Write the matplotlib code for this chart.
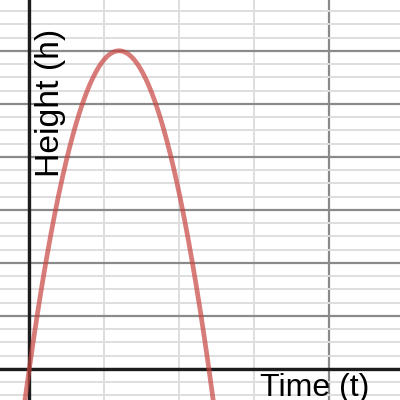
import numpy as np
import matplotlib.pyplot as plt
from matplotlib.ticker import MultipleLocator

plt.rcParams['font.family'] = ['Liberation Sans', 'DejaVu Sans']

# projectile path: vertex (time, height) and launch time
t_vertex = 1.2
h_vertex = 24.0
t_launch = 0.0

x_label = 'Time (t)'
y_label = 'Height (h)'

# visible window
t_min, t_max = -0.391, 4.953
h_min, h_max = -2.34, 27.83

a = h_vertex / (t_vertex - t_launch) ** 2
t = np.linspace(t_min, t_max, 600)
h = h_vertex - a * (t - t_vertex) ** 2

fig = plt.figure(figsize=(4, 4), dpi=100)
ax = fig.add_axes([0, 0, 1, 1])
ax.set_xlim(t_min, t_max)
ax.set_ylim(h_min, h_max)

# grid: minor every 1, major every 4
for axis in (ax.xaxis, ax.yaxis):
    axis.set_major_locator(MultipleLocator(4))
    axis.set_minor_locator(MultipleLocator(1))
ax.grid(which='minor', color='#dedede', lw=1.4, zorder=0)
ax.grid(which='major', color='#8a8a8a', lw=1.6, zorder=0)
ax.set_axisbelow(True)
ax.tick_params(which='both', length=0, labelbottom=False, labelleft=False)
for s in ax.spines.values():
    s.set_visible(False)

# axes lines
ax.axhline(0, color='#1c1c1c', lw=2.4, zorder=2)
ax.axvline(0, color='#1c1c1c', lw=2.4, zorder=2)

ax.plot(t, h, color='#c74440', alpha=0.7, lw=3.4, zorder=3, solid_capstyle='round')

ax.text(0.147, 0.5575, y_label, transform=ax.transAxes, rotation=90,
        rotation_mode='anchor', ha='left', va='baseline', fontsize=24.3,
        color='black', zorder=4)
ax.text(0.9225, 0.01, x_label, transform=ax.transAxes,
        ha='right', va='baseline', fontsize=23, color='black', zorder=4)

fig.savefig('out.png', dpi=100)
